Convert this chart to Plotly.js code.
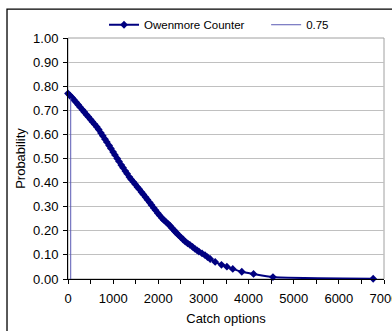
<!DOCTYPE html>
<html>
<head>
<meta charset="utf-8">
<script src="https://cdn.plot.ly/plotly-3.0.1.min.js"></script>
<style>
html,body{margin:0;padding:0;background:#fff;}
#chart{width:392px;height:331px;}
</style>
</head>
<body>
<div id="chart"></div>
<script>
// Owenmore Counter: catch options vs probability
var catchOptions = [0,45,90,130,180,225,270,320,360,410,450,500,540,590,640,680,730,770,820,860,
  910,950,1000,1040,1090,1130,1180,1220,1270,1310,1360,1400,1450,1490,1540,1580,1630,1670,1720,1760,
  1810,1850,1900,1940,1990,2030,2080,2120,2170,2210,2260,2300,2340,2370,2410,2450,2500,2550,2600,2650,
  2700,2760,2813,2860,2900,2970,3035,3090,3150,3260,3400,3520,3650,3850,4110,4540,6760];
var probability = [0.770,0.761,0.752,0.744,0.733,0.723,0.713,0.702,0.693,0.682,0.673,0.662,0.653,0.642,0.631,0.620,0.606,0.594,0.580,0.568,
  0.554,0.542,0.527,0.515,0.500,0.488,0.473,0.462,0.448,0.437,0.423,0.413,0.402,0.393,0.381,0.372,0.360,0.351,0.339,0.329,
  0.317,0.307,0.295,0.285,0.273,0.264,0.253,0.245,0.237,0.230,0.221,0.212,0.204,0.197,0.190,0.182,0.173,0.164,0.155,0.148,
  0.142,0.133,0.125,0.119,0.114,0.106,0.099,0.091,0.083,0.071,0.059,0.051,0.042,0.030,0.021,0.008,0.001];
// 0.75 marker line
var refX = [60, 60];
var refY = [0, 0.75];
var seriesNames = ["Owenmore Counter", "0.75"];
var xTickVals = [0,1000,2000,3000,4000,5000,6000,7000];
var xTickText = ["0","1000","2000","3000","4000","5000","6000","7000"];
var yTickVals = [0,0.1,0.2,0.3,0.4,0.5,0.6,0.7,0.8,0.9,1.0];

var traces = [
  {
    x: catchOptions, y: probability, name: seriesNames[0],
    type: 'scatter', mode: 'lines+markers',
    line: {color: '#000080', width: 2, shape: 'spline', smoothing: 0.6},
    marker: {symbol: 'diamond', size: 6, color: '#000080'},
    cliponaxis: false, legend: 'legend'
  },
  {
    x: refX, y: refY, name: seriesNames[1],
    type: 'scatter', mode: 'lines',
    line: {color: '#5a5ab4', width: 1}, legend: 'legend2'
  }
];

var legendCommon = {
  orientation: 'h', xanchor: 'left', y: 1.055, yanchor: 'middle',
  font: {size: 11.5, color: '#000'}, itemwidth: 30, bgcolor: 'rgba(0,0,0,0)'
};

var layout = {
  width: 392, height: 331,
  margin: {l: 68, r: 8, t: 38, b: 52},
  paper_bgcolor: '#ffffff', plot_bgcolor: '#ffffff',
  font: {family: 'Liberation Sans, Arial, sans-serif', size: 13, color: '#000'},
  showlegend: true,
  legend: Object.assign({}, legendCommon, {x: 0.114}),
  legend2: Object.assign({}, legendCommon, {x: 0.627}),
  xaxis: {
    range: [0, 7000], autorange: false,
    tickvals: xTickVals, ticktext: xTickText, ticklabeloverflow: 'allow',
    ticks: 'outside', ticklen: 4, tickcolor: '#000', tickwidth: 1,
    minor: {dtick: 500, tick0: 0, ticks: 'outside', ticklen: 4, tickcolor: '#000', showgrid: false},
    showline: true, linecolor: '#000', linewidth: 1,
    showgrid: false, zeroline: false,
    ticklabelstandoff: 3,
    tickfont: {size: 13},
    title: {text: 'Catch options', font: {size: 13}, standoff: 9}
  },
  yaxis: {
    range: [0, 1], autorange: false,
    tickvals: yTickVals, tickformat: '.2f',
    ticks: 'outside', ticklen: 4, tickcolor: '#000', tickwidth: 1,
    showline: true, linecolor: '#000', linewidth: 1,
    showgrid: true, gridcolor: '#c0c0c0', gridwidth: 1,
    zeroline: false,
    ticklabelstandoff: 2,
    tickfont: {size: 13},
    title: {text: 'Probability', font: {size: 13}, standoff: 4}
  },
  shapes: [
    {type: 'rect', xref: 'paper', yref: 'paper', x0: 0, x1: 1, y0: 0, y1: 1,
     line: {color: '#a0a0a0', width: 1}, layer: 'below'},
    {type: 'rect', xref: 'paper', yref: 'paper', x0: -0.193, x1: 1.2, y0: -0.3, y1: 1.12,
     line: {color: '#000', width: 1.3}, layer: 'above'}
  ]
};

Plotly.newPlot('chart', traces, layout, {displayModeBar: false, staticPlot: true});
</script>
</body>
</html>
